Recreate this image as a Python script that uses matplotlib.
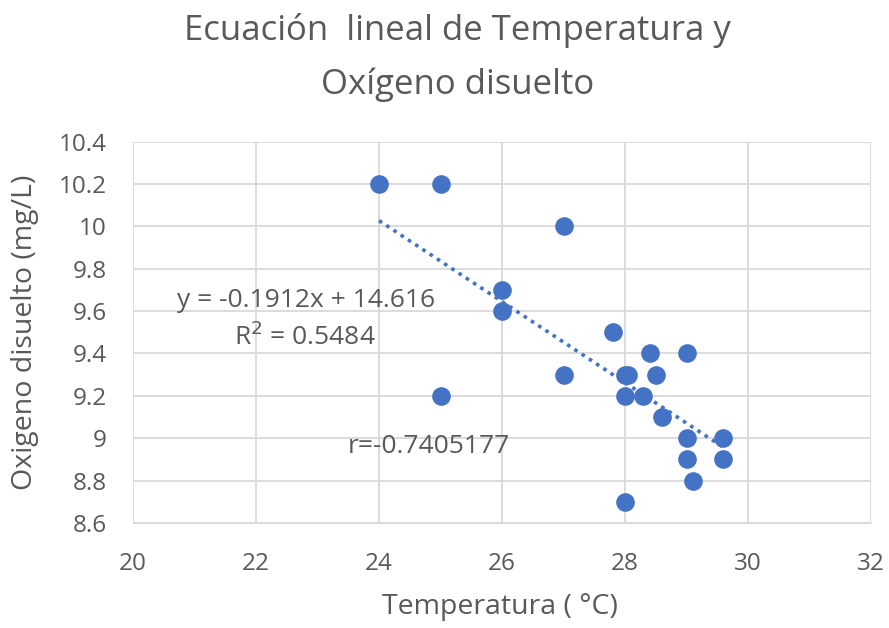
#!/usr/bin/env python3

import numpy as np
import matplotlib.pyplot as plt

plt.rcParams['font.family'] = ['Open Sans', 'DejaVu Sans']

temp = [24, 25, 27, 26, 26, 27.8, 28.4, 29, 25, 27, 28, 28.05, 28.5, 28, 28.3,
        28.6, 29, 29.6, 29, 29.6, 29.1, 28]
oxygen = [10.2, 10.2, 10.0, 9.7, 9.6, 9.5, 9.4, 9.4, 9.2, 9.3, 9.3, 9.3, 9.3, 9.2, 9.2,
          9.1, 9.0, 9.0, 8.9, 8.9, 8.8, 8.7]

slope = -0.1912
intercept = 14.616

BLUE = '#4472C4'
GREY = '#595959'

fig = plt.figure(figsize=(8.89, 6.28), dpi=100)
ax = fig.add_axes([0.1496, 0.1672, 0.8302, 0.6073])

ax.scatter(temp, oxygen, s=180, color=BLUE, zorder=3, linewidths=0)

xt = np.array([min(temp), max(temp)])
ax.plot(xt, slope * xt + intercept, color=BLUE, linestyle=(0, (1, 1.4)),
        linewidth=2.6, zorder=2)

ax.set_xlim(20, 32)
ax.set_ylim(8.6, 10.4)
ax.set_xticks(np.arange(20, 33, 2))
ax.set_yticks(np.arange(8.6, 10.41, 0.2))
ax.set_yticklabels(['8.6', '8.8', '9', '9.2', '9.4', '9.6', '9.8', '10', '10.2', '10.4'])
ax.grid(True, color='#d9d9d9', linewidth=1.3)
ax.set_axisbelow(True)
for s in ax.spines.values():
    s.set_visible(False)
ax.spines['bottom'].set_visible(True)
ax.spines['bottom'].set_color('#d9d9d9')
ax.tick_params(length=0, labelsize=17.5, colors=GREY)
ax.tick_params(axis='x', pad=21)
ax.tick_params(axis='y', pad=19)

ax.set_xlabel('Temperatura ( °C)', fontsize=20.5, color=GREY, va='center')
ax.xaxis.set_label_coords(0.497, -0.22)
ax.set_ylabel('Oxigeno disuelto (mg/L)', fontsize=20.5, color=GREY, va='center')
ax.yaxis.set_label_coords(-0.146, 0.5)

fig.text(0.515, 0.952, 'Ecuación  lineal de Temperatura y', ha='center', va='center',
         fontsize=25, color=GREY)
fig.text(0.515, 0.865, 'Oxígeno disuelto', ha='center', va='center',
         fontsize=25, color=GREY)

ax.text(22.81, 9.652, 'y = -0.1912x + 14.616', ha='center', va='center', fontsize=19, color=GREY)
ax.text(22.8, 9.478, 'R$^2$ = 0.5484', ha='center', va='center', fontsize=19, color=GREY)
ax.text(24.81, 8.959, 'r=-0.7405177', ha='center', va='center', fontsize=19, color=GREY)

fig.savefig('out.png', dpi=100)
